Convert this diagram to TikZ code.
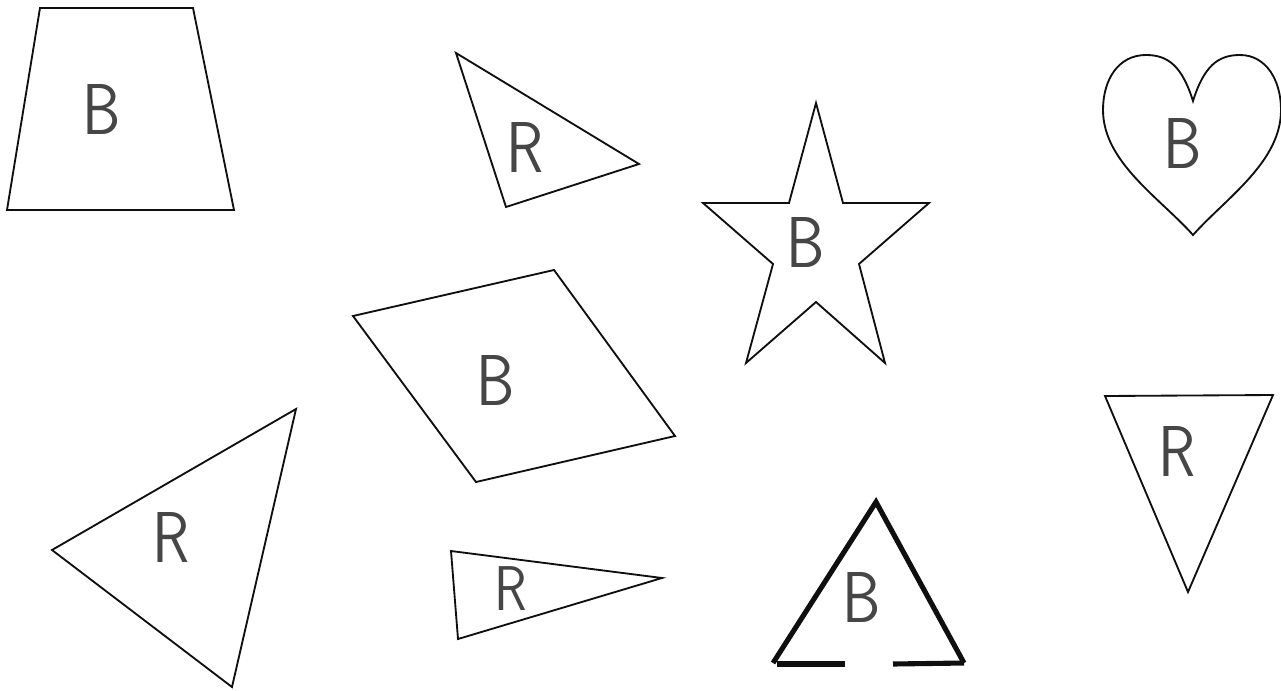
\documentclass[tikz,border=0pt]{standalone}
\usepackage{xcolor}
\usepackage{tikz}
\usetikzlibrary{calc}
\definecolor{inkline}{RGB}{15,15,15}
\definecolor{pencil}{RGB}{70,70,70}

\begin{document}
\begin{tikzpicture}[
    x=0.02cm, y=-0.02cm,
    outline/.style={draw=inkline, line width=1.05pt, line join=miter},
    heavy/.style={draw=inkline, line width=2.9pt},
    letter/.style={font=\sffamily\fontsize{41}{41}\selectfont, text=pencil,
                   inner sep=0pt, xscale=0.85},
  ]
  \useasboundingbox (0,0) rectangle (1281,690);

  % --- Trapezoid ---
  \draw[outline] (40,8) -- (193,8) -- (234,210) -- (7,210) -- cycle;
  \node[letter] (btrap) at (102,110) {B};

  % --- Small triangle (top) ---
  \draw[outline] (456,53) -- (639,164) -- (506,207) -- cycle;
  \node[letter] (rtop) at (525,148) {R};

  % --- Star ---
  \draw[outline] (816,103) -- (843,203) -- (929,203) -- (859,264)
    -- (885,363) -- (816,302) -- (746,363) -- (773,264)
    -- (703,203) -- (789,203) -- cycle;
  \node[letter] (bstar) at (806,242) {B};

  % --- Heart ---
  \draw[outline] (1193,101) .. controls (1182,66) and (1168,55) .. (1146,55)
    .. controls (1118,55) and (1103,80) .. (1103,110)
    .. controls (1103,162) and (1160,198) .. (1193,235)
    .. controls (1226,198) and (1281,162) .. (1281,110)
    .. controls (1281,80) and (1266,55) .. (1240,55)
    .. controls (1218,55) and (1204,66) .. (1193,101) -- cycle;
  \node[letter] (bheart) at (1183,143) {B};

  % --- Rhombus ---
  \draw[outline] (353,316) -- (554,270) -- (675,436) -- (476,482) -- cycle;
  \node[letter] (brhomb) at (496,380) {B};

  % --- Large triangle ---
  \draw[outline] (52,550) -- (296,409) -- (232,687) -- cycle;
  \node[letter] (rlarge) at (171,537) {R};

  % --- Thin triangle ---
  \draw[outline] (451,551) -- (662,578) -- (458,639) -- cycle;
  \node[letter, font=\sffamily\fontsize{36}{36}\selectfont] (rthin)
    at (511,589) {R};

  % --- Bold triangle with open base ---
  \coordinate (apex) at (876,502);
  \coordinate (bl) at (773,663);
  \coordinate (br) at (964,663);
  \coordinate (gapl) at (845,664);
  \coordinate (gapr) at (893,664);
  \draw[heavy] (bl) -- (apex) -- (br);
  \draw[heavy] (777,664) -- (gapl);
  \draw[heavy] (gapr) -- (br);
  \node[letter] (bbold) at (862,597) {B};

  % --- Inverted triangle ---
  \draw[outline] (1105,396) -- (1273,395) -- (1188,592) -- cycle;
  \node[letter] (rinv) at (1177,451) {R};
\end{tikzpicture}
\end{document}
